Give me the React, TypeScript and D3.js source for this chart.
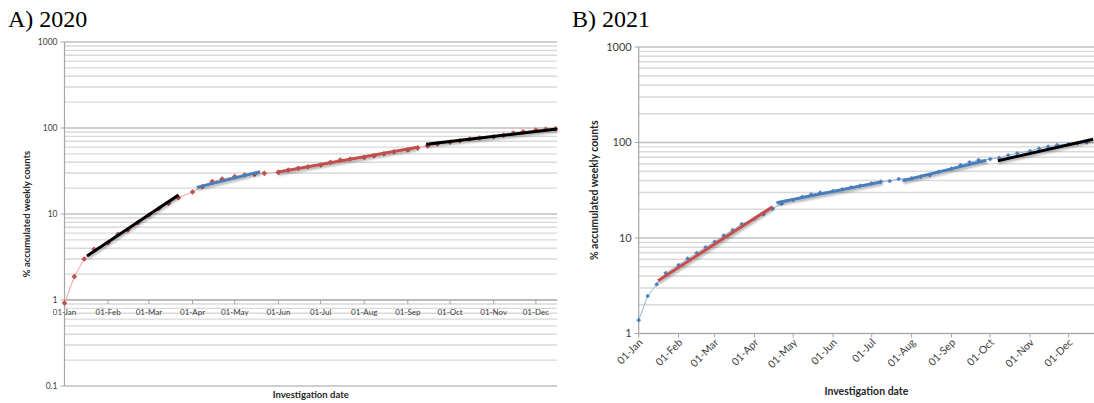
import * as d3 from "d3";

// sampling days used in both years: 1st, 8th, 15th and 22nd of every month
const MONTHS = ["Jan", "Feb", "Mar", "Apr", "May", "Jun", "Jul", "Aug", "Sep", "Oct", "Nov", "Dec"];
const WEEK_DAYS = [1, 8, 15, 22];

// % accumulated weekly counts
const values2020 = [
  0.92, 1.87, 3.0, 3.89,
  4.64, 5.81, 6.51, 7.93,
  9.73, 11.6, 13.3, 15.5,
  18.0, 20.8, 23.8, 25.5,
  27.2, 28.4, 28.9, 29.7,
  30.5, 32.5, 34.0, 35.5,
  37.1, 39.9, 42.5, 43.6,
  45.6, 47.6, 50.2, 53.0,
  55.5, 59.0, 61.8, 65.2,
  68.2, 71.2, 74.5, 76.5,
  79.2, 82.3, 87.5, 90.5,
  94.8, 96.6, 98.2,
];

const values2021 = [
  1.38, 2.47, 3.27, 4.3,
  5.21, 6.07, 6.96, 8.0,
  9.14, 10.6, 12.1, 14.0,
  15.9, 17.8, 20.3, 22.9,
  25.0, 27.0, 28.6, 29.8,
  31.0, 32.3, 34.0, 35.3,
  37.3, 38.9, 39.5, 41.5,
  42.2, 43.9, 45.6, 49.4,
  53.2, 58.0, 62.0, 65.4,
  67.0, 69.2, 73.5, 77.0,
  81.5, 86.5, 90.5, 94.0,
  96.5, 98.2, 100,
];

// fitted trend segments: start date, end date, start value, end value
const trendFrom2020 = ["2020-01-17", "2020-04-04", "2020-05-31", "2020-09-14"];
const trendTo2020 = ["2020-03-22", "2020-05-19", "2020-09-08", "2020-12-16"];
const trendV0_2020 = [3.25, 20.4, 30.5, 64.6];
const trendV1_2020 = [16.6, 31.0, 59.7, 97.3];
const trendColors2020 = ["#000000", "#4a7ebb", "#c0504d", "#000000"];

const trendFrom2021 = ["2021-01-16", "2021-04-18", "2021-07-25", "2021-10-07"];
const trendTo2021 = ["2021-04-15", "2021-07-09", "2021-09-28", "2021-12-20"];
const trendV0_2021 = [3.57, 23.4, 39.8, 64.5];
const trendV1_2021 = [21.3, 38.9, 65.0, 108];
const trendColors2021 = ["#c0504d", "#4a7ebb", "#4a7ebb", "#000000"];

const yTicks2020 = [0.1, 1, 10, 100, 1000];
const yTicks2021 = [1, 10, 100, 1000];

const FONT = "Lato, 'Open Sans', sans-serif";

function sampleDates(year: number, n: number) {
  const out: Date[] = [];
  MONTHS.forEach((_, m) => WEEK_DAYS.forEach((d) => out.push(new Date(year, m, d))));
  return out.slice(0, n);
}

function Panel(props: any) {
  const {
    id, title, titleX, year, values, from, to, v0, v1, colors, yTicks,
    xRange, xEnd, yDomain, yRange, markColor, thinColor, markSize,
    tickFont, yFont, titleFont, rotate,
  } = props;
  const x = d3.scaleTime([new Date(year, 0, 1), xEnd], xRange);
  const y = d3.scaleLog(yDomain, yRange);
  const dates = sampleDates(year, values.length);
  const pts = values.map((v: number, i: number) => [x(dates[i]), y(v)] as [number, number]);
  const line = d3.line();
  const y1 = y(1);
  const [x0, xr] = xRange;

  const minor: number[] = [];
  const major: number[] = [];
  for (let d = yDomain[0]; d < yDomain[1] * 1.001; d *= 10) {
    major.push(d);
    for (let k = 2; k <= 9; k++) if (d * k < yDomain[1]) minor.push(d * k);
  }
  const months = d3.timeMonth.range(new Date(year, 0, 1), new Date(year, 11, 2));
  const fmt = d3.timeFormat("%d-%b");
  const diamond = d3.symbol(d3.symbolDiamond2, markSize)();
  const yMid = (yRange[0] + yRange[1]) / 2;

  return (
    <g>
      <text x={titleX} y={27} fontFamily="'Liberation Serif', 'Times New Roman', serif" fontSize={24} fill="#000">
        {title}
      </text>
      {minor.map((v) => (
        <line key={"m" + v} x1={x0} x2={xr} y1={y(v)} y2={y(v)} stroke="#d9d9d9" strokeWidth={1.4} />
      ))}
      {major.map((v) => (
        <line key={"M" + v} x1={x0} x2={xr} y1={y(v)} y2={y(v)} stroke="#bfbfbf" strokeWidth={1.4} />
      ))}
      {/* axes */}
      <line x1={x0} x2={x0} y1={yRange[0]} y2={yRange[1]} stroke="#a6a6a6" strokeWidth={1.2} />
      <line x1={x0} x2={xr} y1={y1} y2={y1} stroke="#a6a6a6" strokeWidth={1.2} />
      {yTicks.map((v: number) => (
        <g key={"yt" + v}>
          <line x1={x0 - 4} x2={x0} y1={y(v)} y2={y(v)} stroke="#a6a6a6" />
          <text x={x0 - 7} y={y(v)} dy="0.35em" textAnchor="end" fontFamily={FONT} fontSize={yFont} fill="#404040">
            {String(v)}
          </text>
        </g>
      ))}
      {months.map((m) => (
        <g key={"xt" + m.getMonth()}>
          <line x1={x(m)} x2={x(m)} y1={y1} y2={y1 + 4} stroke="#a6a6a6" />
          {rotate ? (
            <text
              transform={`translate(${x(m) + 2},${y1 + 7}) rotate(-45)`}
              textAnchor="end"
              dy="0.35em"
              fontFamily={FONT}
              fontSize={tickFont}
              fill="#404040"
            >
              {fmt(m)}
            </text>
          ) : (
            <text x={x(m)} y={y1 + 12} dy="0.35em" textAnchor="middle" fontFamily={FONT} fontSize={tickFont} fill="#404040">
              {fmt(m)}
            </text>
          )}
        </g>
      ))}
      {/* data */}
      <path d={line(pts) || ""} fill="none" stroke={thinColor} strokeWidth={1} />
      {pts.map((p: [number, number], i: number) => (
        <path key={"p" + i} d={diamond || ""} transform={`translate(${p[0]},${p[1]})`} fill={markColor} />
      ))}
      {from.map((f: string, i: number) => {
        const seg: [number, number][] = [
          [x(new Date(f + "T00:00")), y(v0[i])],
          [x(new Date(to[i] + "T00:00")), y(v1[i])],
        ];
        return (
          <path key={"t" + i} d={line(seg) || ""} stroke={colors[i]} strokeWidth={3} fill="none" filter={`url(#${id}sh)`} />
        );
      })}
      {/* titles */}
      <text
        x={(x0 + xr) / 2}
        y={props.xTitleY}
        textAnchor="middle"
        fontFamily={FONT}
        fontWeight="bold"
        fontSize={titleFont}
        fill="#262626"
      >
        Investigation date
      </text>
      <text
        transform={`translate(${props.yTitleX},${yMid}) rotate(-90)`}
        textAnchor="middle"
        fontFamily={FONT}
        fontWeight="bold"
        fontSize={titleFont}
        fill="#262626"
      >
        % accumulated weekly counts
      </text>
    </g>
  );
}

export default function App() {
  return (
    <svg width={1094} height={403} style={{ position: "absolute", left: 0, top: 0, background: "#fff" }}>
      <defs>
        {["a", "b"].map((k) => (
          <filter key={k} id={k + "sh"} x="-10%" y="-50%" width="120%" height="200%">
            <feDropShadow dx={1} dy={2} stdDeviation={1.2} floodColor="#000" floodOpacity={0.3} />
          </filter>
        ))}
      </defs>
      <Panel
        id="a"
        title="A) 2020"
        titleX={8}
        year={2020}
        values={values2020}
        from={trendFrom2020}
        to={trendTo2020}
        v0={trendV0_2020}
        v1={trendV1_2020}
        colors={trendColors2020}
        yTicks={yTicks2020}
        xRange={[64.5, 557]}
        xEnd={new Date(2020, 11, 16)}
        yDomain={[0.1, 1000]}
        yRange={[386, 42]}
        markColor="#c0504d"
        thinColor="#e8a3a1"
        markSize={20}
        tickFont={8}
        yFont={8.5}
        titleFont={9.5}
        rotate={false}
        xTitleY={398}
        yTitleX={30}
      />
      <Panel
        id="b"
        title="B) 2021"
        titleX={572}
        year={2021}
        values={values2021}
        from={trendFrom2021}
        to={trendTo2021}
        v0={trendV0_2021}
        v1={trendV1_2021}
        colors={trendColors2021}
        yTicks={yTicks2021}
        xRange={[638.7, 1094]}
        xEnd={new Date(2021, 11, 20, 16)}
        yDomain={[1, 1000]}
        yRange={[333.5, 47]}
        markColor="#4f81bd"
        thinColor="#95b3d7"
        markSize={14}
        tickFont={10.5}
        yFont={11}
        titleFont={10.5}
        rotate={true}
        xTitleY={395}
        yTitleX={598}
      />
    </svg>
  );
}
